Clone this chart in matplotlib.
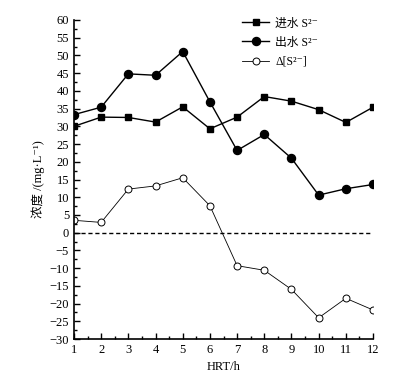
import matplotlib
matplotlib.use("Agg")
import matplotlib.pyplot as plt
from matplotlib.ticker import MultipleLocator

FAM = ['Liberation Serif', 'Noto Sans CJK SC', 'DejaVu Serif']
plt.rcParams['font.family'] = FAM

hrt = [1, 2, 3, 4, 5, 6, 7, 8, 9, 10, 11, 12]
inflow = [30.0, 32.6, 32.5, 31.2, 35.5, 29.3, 32.6, 38.4, 37.1, 34.7, 31.1, 35.4]
outflow = [33.3, 35.4, 44.8, 44.4, 51.1, 36.9, 23.2, 27.7, 21.0, 10.6, 12.4, 13.6]
delta = [3.5, 2.9, 12.3, 13.2, 15.5, 7.6, -9.3, -10.6, -16.0, -24.0, -18.5, -21.8]
labels = ['进水 S²⁻', '出水 S²⁻', 'Δ[S²⁻]']

fig = plt.figure(figsize=(4.02, 3.84), dpi=100)
ax = fig.add_axes([0.184, 0.117, 0.744, 0.831])

ax.plot(hrt, inflow, '-s', color='black', lw=1.0, ms=4.5, label=labels[0])
ax.plot(hrt, outflow, '-o', color='black', lw=1.0, ms=5.8, label=labels[1])
ax.plot(hrt, delta, '-o', color='black', lw=0.6, ms=5, mfc='white', mew=0.7, label=labels[2])
ax.axhline(0, color='black', lw=1.0, ls=(0, (3, 2)))

ax.set_xlim(1, 12)
ax.set_ylim(-30, 60)
ax.xaxis.set_major_locator(MultipleLocator(1))
ax.xaxis.set_minor_locator(MultipleLocator(0.5))
ax.yaxis.set_major_locator(MultipleLocator(5))
ax.yaxis.set_minor_locator(MultipleLocator(2.5))
ax.tick_params(which='both', direction='in', labelsize=9, width=1)
ax.tick_params(which='major', length=4)
ax.tick_params(which='minor', length=2)
ax.spines['top'].set_visible(False)
ax.spines['right'].set_visible(False)
ax.spines['left'].set_linewidth(1.2)
ax.spines['bottom'].set_linewidth(1.2)
ax.set_yticks(ax.get_yticks())
ax.set_yticklabels([str(int(v)).replace('-', '\u2212') for v in ax.get_yticks()])
ax.set_ylim(-30, 60)

ax.set_xlabel('HRT/h', fontsize=9, labelpad=4)
ax.set_ylabel('浓度 /(mg·L⁻¹)', fontsize=9, labelpad=3)

ax.legend(loc='upper right', bbox_to_anchor=(0.84, 1.03), frameon=False, fontsize=8.5,
          handlelength=2.3, handletextpad=0.5, labelspacing=0.6, borderaxespad=0.2, numpoints=1)

fig.savefig('out.png', dpi=100)
